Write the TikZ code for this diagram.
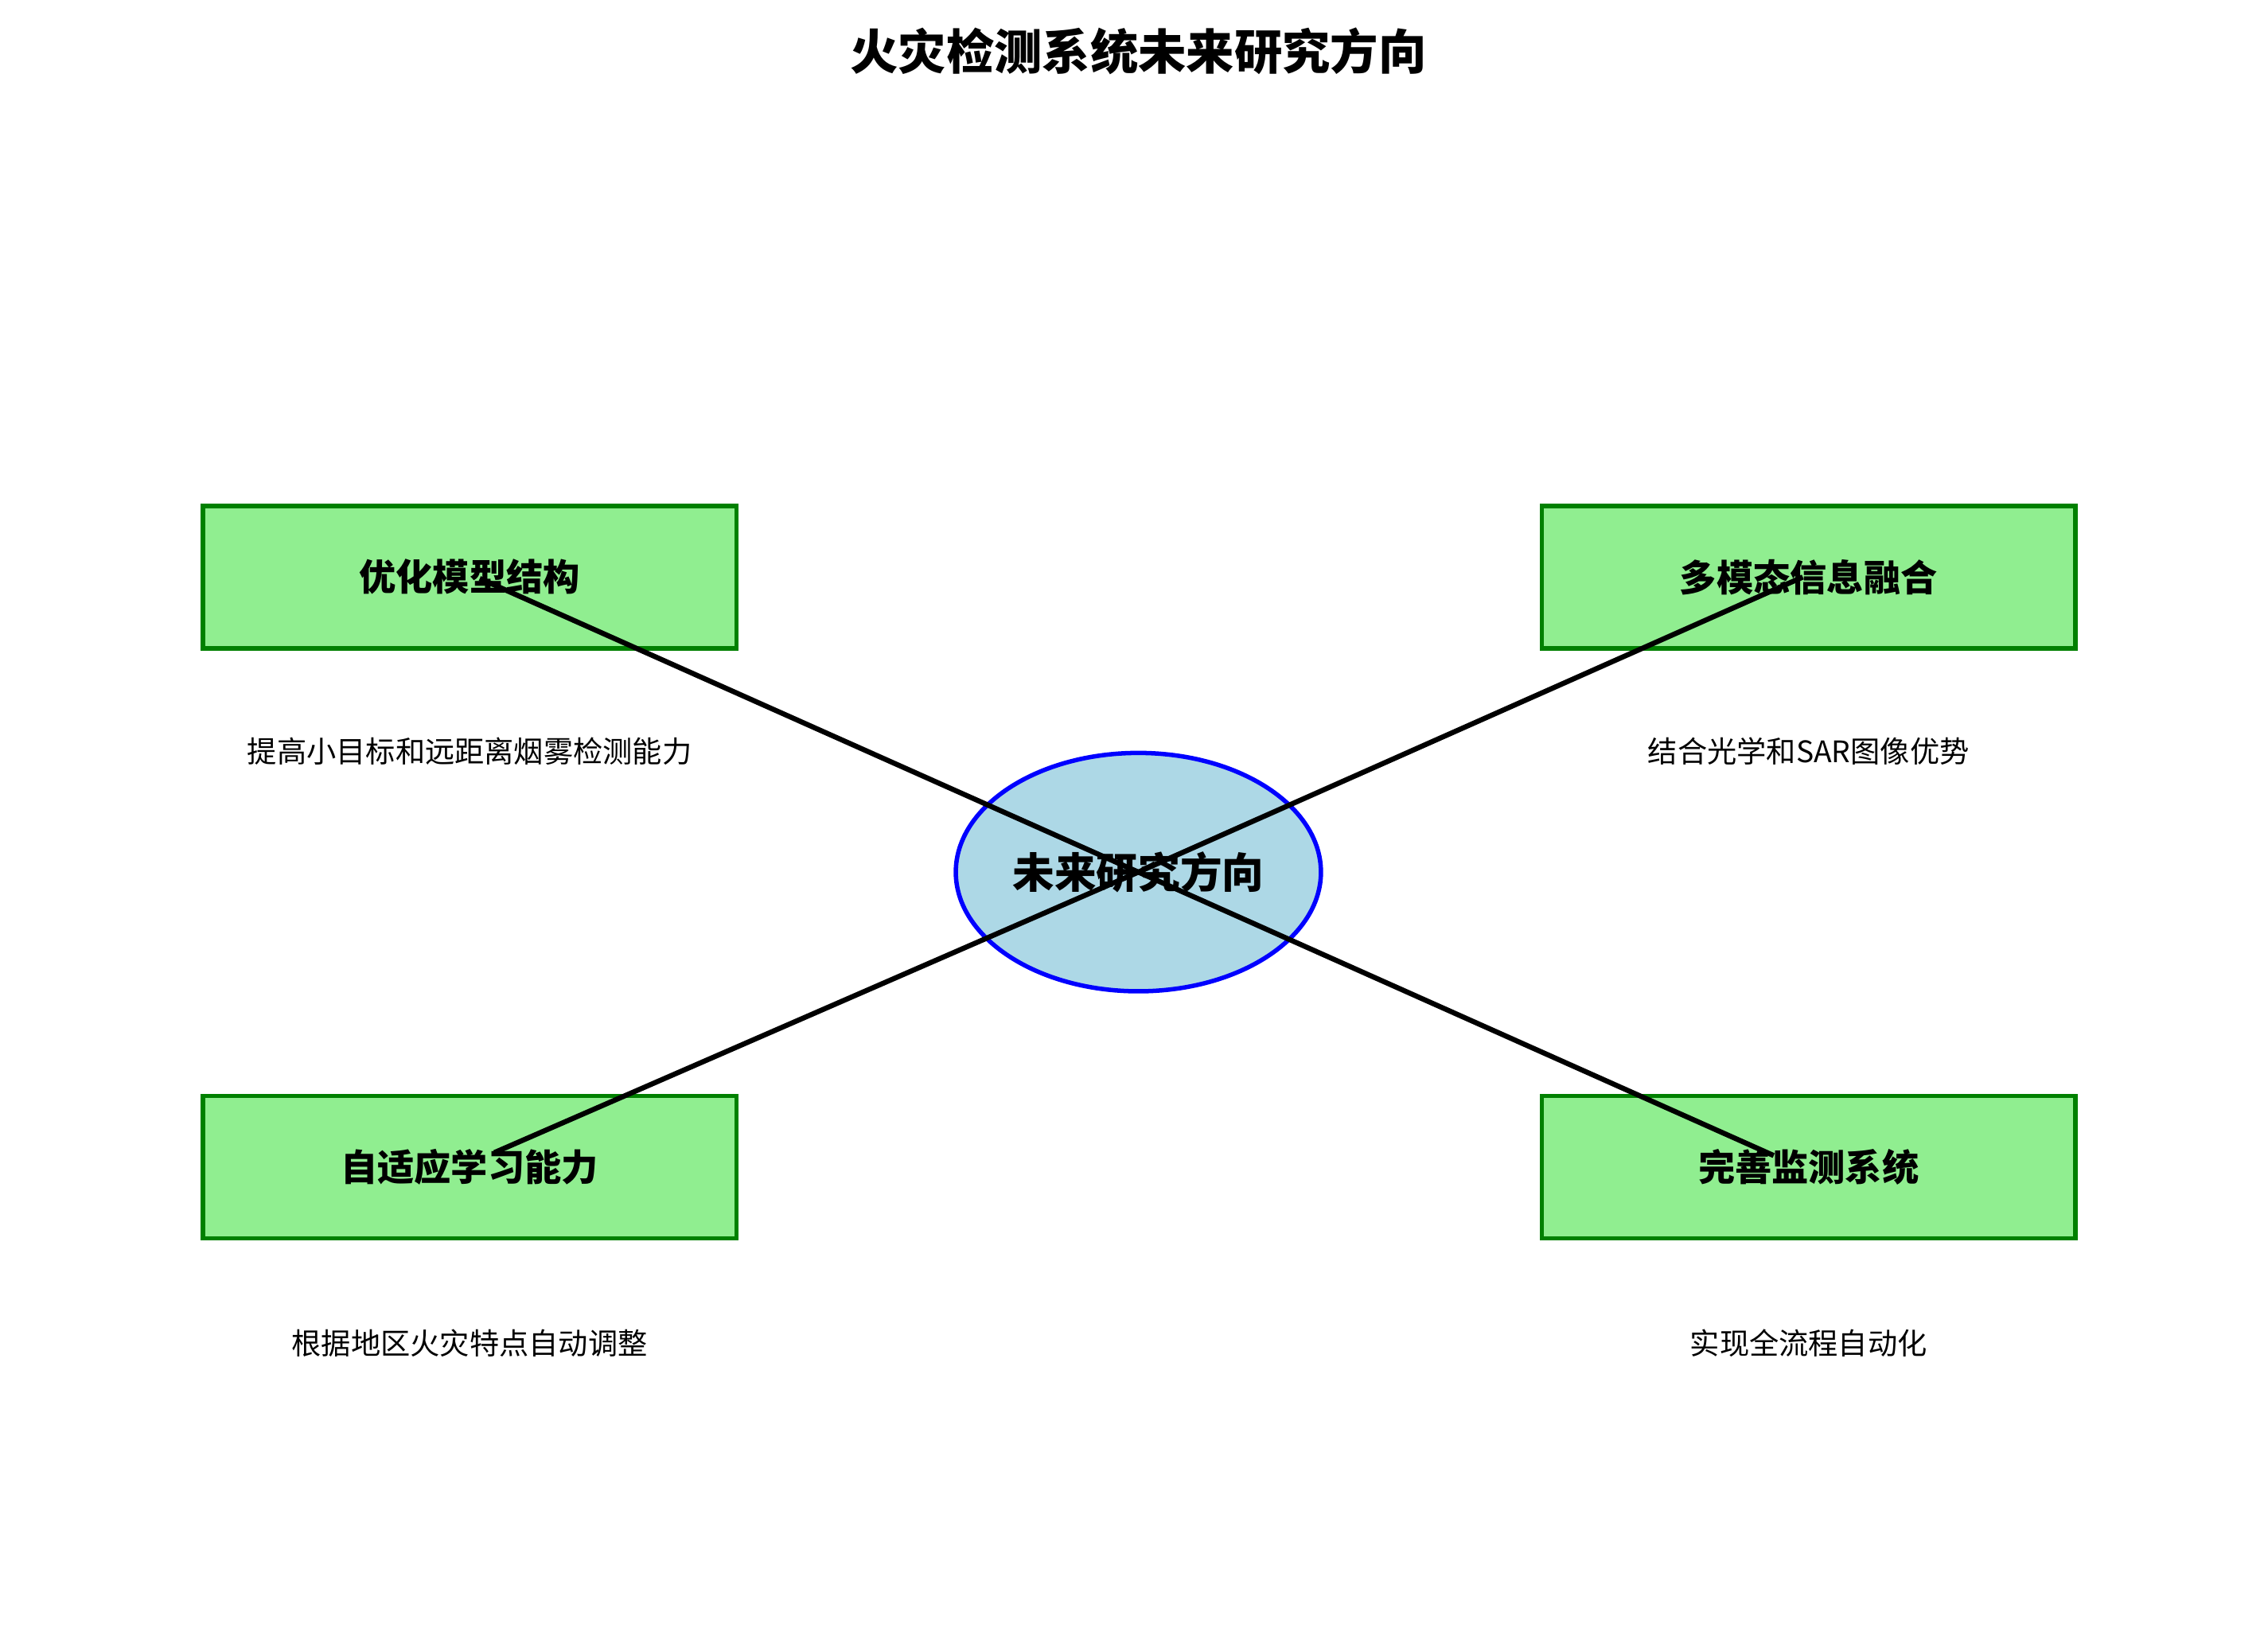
\documentclass[tikz,border=0pt]{standalone}
\usepackage{fontspec}
\setmainfont{Noto Sans CJK SC}
\usetikzlibrary{shapes.geometric}
\definecolor{boxfill}{HTML}{90EE90}
\definecolor{boxdraw}{HTML}{008000}
\definecolor{ellfill}{HTML}{ADD8E6}
\begin{document}
\begin{tikzpicture}[x=0.05cm,y=-0.05cm,
  dirbox/.style={draw=boxdraw,fill=boxfill,line width=4.3pt,minimum width=370*0.05cm-4.3pt,minimum height=101*0.05cm-4.3pt,font=\fontsize{36}{40}\selectfont\bfseries},
  subtxt/.style={font=\fontsize{29}{34}\selectfont},
  conn/.style={line width=5pt,black}]
\useasboundingbox (0,0) rectangle (1560,1119);
\node[font=\fontsize{47}{52}\selectfont\bfseries] (title) at (783,35) {火灾检测系统未来研究方向};
\node[dirbox] (b1) at (323,397) {优化模型结构};
\node[dirbox] (b2) at (1244,397) {多模态信息融合};
\node[dirbox] (b3) at (323,803) {自适应学习能力};
\node[dirbox] (b4) at (1244,803) {完善监测系统};
\node[subtxt] (s1) at (323,517) {提高小目标和远距离烟雾检测能力};
\node[subtxt] (s2) at (1244,517) {结合光学和SAR图像优势};
\node[subtxt] (s3) at (323,924) {根据地区火灾特点自动调整};
\node[subtxt] (s4) at (1244,924) {实现全流程自动化};
\node[ellipse,draw=blue,fill=ellfill,line width=4.3pt,minimum width=246*0.05cm,minimum height=164*0.05cm,font=\fontsize{41}{46}\selectfont\bfseries] (c) at (783,600) {未来研究方向};
\coordinate (e1) at (330,398);
\coordinate (e2) at (1240,397);
\coordinate (e3) at (340,793);
\coordinate (e4) at (1220,795);
\draw[conn] (c.center) -- (e1);
\draw[conn] (c.center) -- (e2);
\draw[conn] (c.center) -- (e3);
\draw[conn] (c.center) -- (e4);
\end{tikzpicture}
\end{document}
